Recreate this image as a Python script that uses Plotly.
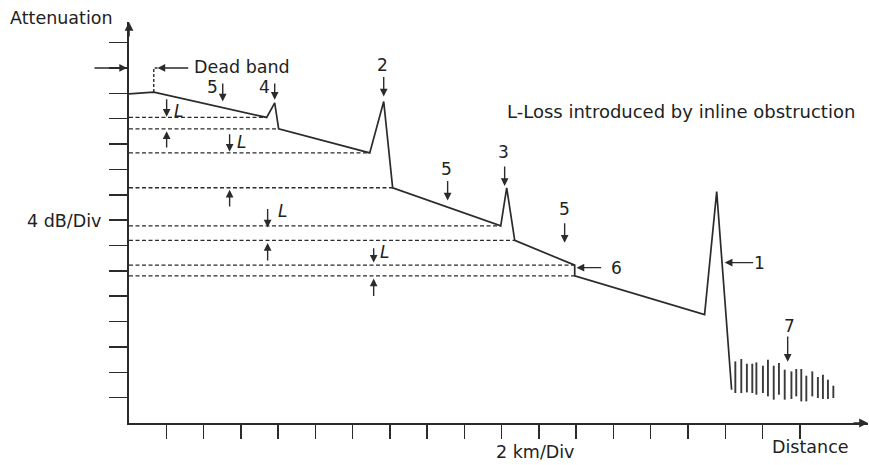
import plotly.graph_objects as go

# ---- data (distance in km, attenuation in dB) ----
dist_km = [0.0, 1.33, 7.39, 7.82, 8.03, 12.92, 13.67, 14.15, 19.95, 20.27,
           20.70, 23.92, 23.92, 30.89, 31.54, 32.34]
atten_db = [51.9, 52.2, 48.2, 50.5, 46.4, 42.6, 50.7, 37.1, 31.1, 37.1,
            28.8, 24.9, 23.2, 17.1, 36.5, 5.25]
dashed_idx = [2, 4, 5, 7, 8, 10, 11, 12]

noise_x = [32.54, 32.86, 33.16, 33.45, 33.67, 34.02, 34.29, 34.60, 34.88, 35.19,
           35.55, 35.81, 36.08, 36.35, 36.67, 36.97, 37.24, 37.51, 37.80]
noise_top = [9.72, 10.09, 9.35, 9.35, 9.56, 9.04, 9.98, 9.04, 9.46, 8.41,
             8.14, 8.52, 8.52, 7.46, 8.14, 7.26, 7.62, 6.83, 5.88]
noise_bot = [4.73, 4.73, 4.83, 4.73, 4.46, 4.73, 4.20, 3.68, 4.46, 3.68,
             3.79, 4.20, 3.41, 3.41, 4.20, 3.94, 3.79, 3.79, 3.94]

x_ticks = [2 * k for k in range(1, 19)]
y_ticks = [4 * k for k in range(1, 16)]
X_MAX = 39.66
Y_MAX = 63.25

# event labels: text, text x/y, arrow head x/y, arrow tail x/y
events = [
    ("5", 4.49, 53.0, 5.03, 50.7, 5.03, 53.8),
    ("4", 7.28, 53.0, 7.82, 51.0, 7.82, 53.8),
    ("2", 13.61, 56.5, 13.67, 51.5, 13.67, 54.8),
    ("5", 17.05, 40.0, 17.10, 35.1, 17.10, 38.4),
    ("3", 20.11, 42.7, 20.16, 37.4, 20.16, 40.7),
    ("5", 23.38, 33.7, 23.38, 28.45, 23.38, 31.75),
    ("6", 26.17, 24.5, 24.02, 24.5, 25.42, 24.5),
    ("1", 33.84, 25.3, 31.97, 25.3, 33.58, 25.3),
    ("7", 35.45, 15.3, 35.35, 9.67, 35.35, 13.9),
]
# L markers: x, down arrow tail->head, up arrow tail->head, L text x/y
l_marks = [
    (2.02, 51.3, 48.3, 43.2, 46.0, 2.63, 49.2),
    (5.40, 45.8, 42.8, 33.9, 36.8, 6.03, 44.4),
    (7.44, 34.0, 30.85, 25.4, 28.4, 8.25, 33.4),
    (13.13, 27.8, 25.3, 19.8, 22.8, 13.72, 26.9),
]
dead_band_level = 56.0

INK = "#2b2b2b"
FONT = "DejaVu Sans"

fig = go.Figure()

# dashed reference levels
dx, dy = [], []
for i in dashed_idx:
    dx += [0, dist_km[i], None]
    dy += [atten_db[i], atten_db[i], None]
fig.add_trace(go.Scatter(x=dx, y=dy, mode="lines",
                         line=dict(color=INK, width=1.4, dash="4px,2.5px"),
                         hoverinfo="skip"))
# dead band marker
fig.add_trace(go.Scatter(x=[dist_km[1], dist_km[1], dist_km[1] + 0.2],
                         y=[atten_db[1], dead_band_level, dead_band_level],
                         mode="lines",
                         line=dict(color=INK, width=1.4, dash="3px,2px"),
                         hoverinfo="skip"))
# main trace
fig.add_trace(go.Scatter(x=dist_km, y=atten_db, mode="lines",
                         line=dict(color=INK, width=1.7), hoverinfo="skip"))
# noise
nx, ny = [], []
for x, t, b in zip(noise_x, noise_top, noise_bot):
    nx += [x, x, None]
    ny += [b, t, None]
fig.add_trace(go.Scatter(x=nx, y=ny, mode="lines",
                         line=dict(color="#3a3a3a", width=1.9), hoverinfo="skip"))

ann = []


def text(t, x, y, size=17.5, italic=False, xanchor="center"):
    # paper coordinates so labels outside the axis range stay visible
    ann.append(dict(x=x / X_MAX, y=y / Y_MAX, xref="paper", yref="paper",
                    text=t, showarrow=False,
                    xanchor=xanchor, yanchor="middle",
                    font=dict(family=FONT, size=size, color="#222",
                              style="italic" if italic else "normal")))


def arrow(hx, hy, tx, ty):
    ann.append(dict(x=hx, y=hy, ax=tx, ay=ty, xref="x", yref="y",
                    axref="x", ayref="y", text="", showarrow=True,
                    arrowhead=2, arrowsize=1.1, arrowwidth=1.4,
                    arrowcolor=INK, standoff=0, startstandoff=0))


for lab, tx, ty, hx, hy, ax_, ay_ in events:
    text(lab, tx, ty, size=17)
    arrow(hx, hy, ax_, ay_)

for x, d0, d1, u0, u1, lx, ly in l_marks:
    arrow(x, d1, x, d0)
    arrow(x, u1, x, u0)
    text("L", lx, ly, size=17, italic=True)

# dead band label and arrows
text("Dead band", 6.06, 56.1)
arrow(dist_km[1] + 0.2, dead_band_level, 3.26, dead_band_level)
# arrow pointing at the y axis (tail given in pixels)
ann.append(dict(x=0, y=dead_band_level, xref="x", yref="y", ax=-36, ay=0,
                text="", showarrow=True, arrowhead=2, arrowsize=1.1,
                arrowwidth=1.4, arrowcolor=INK, standoff=2))

text("Attenuation", -3.6, 63.9)
text("4 dB/Div", -1.38, 31.9, xanchor="right")
text("2 km/Div", 21.77, -4.6)
text("Distance", 36.58, -3.85)
text("L-Loss introduced by inline obstruction", 29.6, 49.1, size=18)

# axis arrowheads
ann.append(dict(x=0, y=1, xref="paper", yref="paper", ax=0, ay=16,
                text="", showarrow=True, arrowhead=2, arrowsize=1.1,
                arrowwidth=1.6, arrowcolor=INK, standoff=0))
ann.append(dict(x=1, y=0, xref="paper", yref="paper", ax=-16, ay=0,
                text="", showarrow=True, arrowhead=2, arrowsize=1.1,
                arrowwidth=1.6, arrowcolor=INK, standoff=0))

fig.update_layout(
    width=869, height=465,
    margin=dict(l=129, r=1, t=22, b=42),
    paper_bgcolor="white", plot_bgcolor="white",
    showlegend=False,
    annotations=ann,
    xaxis=dict(range=[0, X_MAX], showline=True, linecolor=INK, linewidth=2,
               ticks="outside", tickvals=x_ticks, ticklen=14, tickwidth=1.5,
               tickcolor=INK, showticklabels=False, showgrid=False,
               zeroline=False, fixedrange=True, automargin=False),
    yaxis=dict(range=[0, Y_MAX], showline=True, linecolor=INK, linewidth=2,
               ticks="outside", tickvals=y_ticks, ticklen=18, tickwidth=1.5,
               tickcolor=INK, showticklabels=False, showgrid=False,
               zeroline=False, fixedrange=True, automargin=False),
)

fig.write_html("out.html",
               config={"displayModeBar": False, "staticPlot": True},
               post_script="document.body.style.margin='0';"
                           "document.body.style.overflow='hidden';")
